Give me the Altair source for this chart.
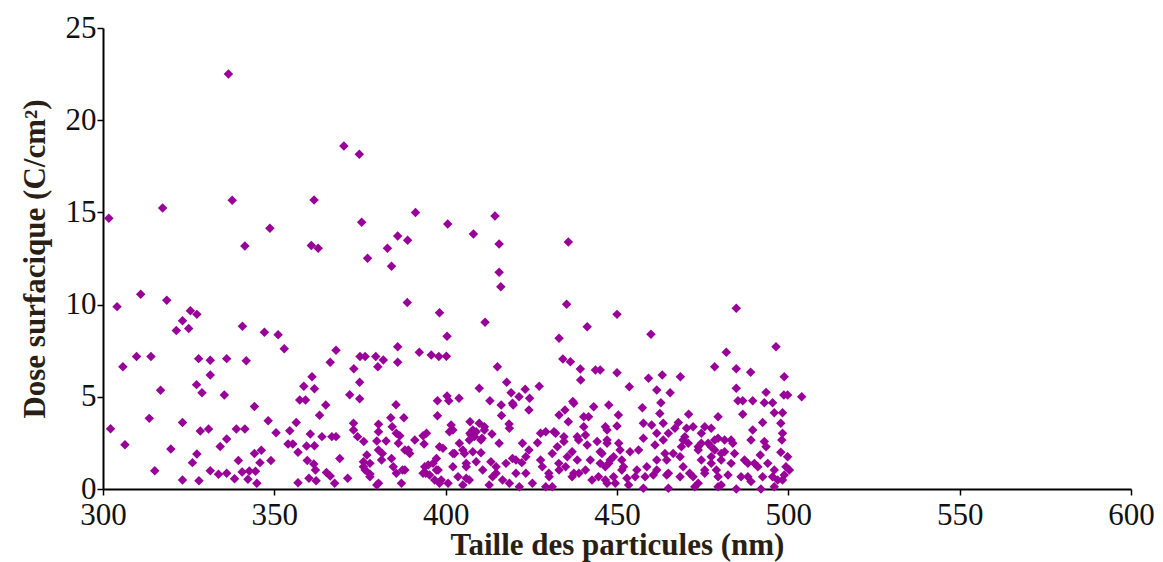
import altair as alt
import pandas as pd

# (particle size nm, surface dose C/cm2), by region
pts_high = [
    (336.6, 22.5), (301.7, 14.68), (317.4, 15.24), (337.7, 15.66), (348.7, 14.14), (341.4, 13.18),
    (370.3, 18.6), (374.8, 18.15), (361.6, 15.67), (375.5, 14.46), (360.8, 13.2), (362.8, 13.05),
    (377.2, 12.51), (383.0, 13.05), (386.0, 13.72), (388.9, 13.49), (384.2, 12.08), (391.2, 15.0),
    (400.6, 14.37), (408.1, 13.83), (414.4, 14.8), (415.6, 13.29), (415.6, 11.75), (416.1, 10.97),
    (435.8, 13.4), (450.0, 9.47), (459.9, 8.39), (484.8, 9.8), (481.9, 7.41), (496.4, 7.72),
]

pts_300_350 = [
    (304.1, 9.89), (311.0, 10.56), (318.6, 10.23), (325.5, 9.67), (327.4, 9.47), (323.2, 9.13),
    (321.4, 8.6), (325.0, 8.7), (340.7, 8.82), (347.1, 8.5), (309.8, 7.18), (314.0, 7.18),
    (305.8, 6.63), (327.9, 7.07), (331.3, 6.98), (336.1, 7.07), (341.8, 6.96), (331.3, 6.18),
    (327.3, 5.66), (328.9, 5.22), (316.8, 5.35), (335.4, 5.1), (344.2, 4.48), (313.5, 3.83),
    (302.2, 3.27), (323.2, 3.6), (328.4, 3.15), (330.8, 3.25), (338.9, 3.25), (341.4, 3.25),
    (348.2, 3.7), (350.5, 3.05), (306.4, 2.4), (319.8, 2.17), (334.2, 2.31), (336.1, 2.71),
    (327.4, 1.9), (326.1, 1.43), (344.2, 1.93), (346.2, 2.1), (345.8, 1.43), (339.5, 1.54),
    (349.0, 1.54), (315.1, 0.99), (331.3, 0.99), (333.7, 0.8), (336.1, 0.85), (338.4, 0.56),
    (340.6, 0.92), (342.7, 0.98), (344.5, 0.96), (342.3, 0.53), (344.9, 0.31), (323.2, 0.49),
    (328.0, 0.45),
]

pts_350_400 = [
    (388.8, 10.12), (398.2, 9.56), (351.1, 8.37), (352.9, 7.61), (368.0, 7.52), (366.3, 6.87),
    (375.0, 7.18), (376.5, 7.18), (379.6, 7.18), (381.8, 7.0), (380.2, 6.63), (386.0, 7.72),
    (386.0, 6.87), (392.3, 7.41), (395.8, 7.27), (398.0, 7.18), (373.2, 6.52), (374.9, 5.79),
    (372.0, 5.11), (374.9, 4.9), (361.0, 6.09), (358.6, 5.57), (361.7, 5.44), (357.4, 4.83),
    (359.1, 4.83), (365.0, 4.56), (363.2, 4.0), (356.4, 3.6), (354.5, 3.16), (354.0, 2.44),
    (355.4, 2.44), (356.9, 1.99), (360.5, 2.98), (359.4, 2.33), (361.7, 2.35), (363.9, 2.84),
    (366.8, 2.84), (368.0, 2.84), (359.6, 1.54), (361.5, 1.36), (362.0, 1.03), (365.2, 0.9),
    (366.3, 0.7), (360.1, 0.58), (362.2, 0.45), (356.9, 0.34), (367.6, 0.31), (369.1, 1.65),
    (371.4, 0.58), (373.1, 3.56), (373.1, 3.2), (374.3, 2.84), (376.1, 2.57), (380.4, 3.51),
    (380.4, 3.11), (379.9, 2.6), (382.6, 2.6), (384.0, 3.87), (384.4, 3.38), (385.5, 4.57),
    (387.8, 3.87), (385.6, 3.02), (386.6, 2.89), (380.4, 2.11), (381.5, 1.93), (377.0, 1.84),
    (376.0, 1.48), (377.9, 1.39), (376.5, 1.03), (377.9, 0.81), (380.4, 0.31), (381.3, 1.57),
    (384.2, 1.66), (384.7, 1.21), (385.6, 0.85), (387.4, 1.03), (387.1, 0.31), (388.1, 2.11),
    (389.5, 1.93), (391.0, 2.66), (393.4, 2.89), (394.4, 3.02), (393.7, 2.44), (394.9, 1.3),
    (394.2, 0.85), (397.3, 1.03), (396.8, 0.49), (398.2, 0.31), (397.6, 4.79), (397.6, 3.97),
    (398.2, 2.29), (379.9, 0.22), (388.1, 1.03), (393.4, 0.85), (389.1, 2.11), (386.2, 2.48),
    (377.9, 0.67), (376.0, 1.21),
]

pts_400_450 = [
    (400.4, 8.28), (400.2, 7.2), (411.5, 9.04), (415.1, 6.63), (409.8, 5.46), (417.8, 5.79),
    (419.1, 5.22), (421.4, 5.0), (423.2, 5.41), (424.5, 4.92), (427.3, 5.57), (412.9, 4.79),
    (416.2, 4.56), (416.3, 3.98), (419.7, 4.56), (424.3, 4.28), (400.4, 5.04), (400.9, 4.79),
    (403.9, 4.92), (401.6, 3.47), (401.1, 3.11), (407.1, 3.65), (409.8, 3.56), (411.3, 3.38),
    (407.1, 3.02), (408.4, 2.84), (410.6, 2.75), (413.5, 2.98), (418.5, 3.52), (404.0, 2.48),
    (399.2, 2.21), (402.6, 1.93), (405.5, 1.93), (407.9, 2.02), (410.3, 1.97), (422.4, 2.48),
    (424.3, 2.11), (426.8, 2.51), (427.7, 3.02), (419.5, 1.66), (422.2, 1.43), (432.1, 3.02),
    (433.1, 4.01), (434.8, 4.28), (435.8, 3.65), (437.4, 4.65), (440.3, 3.92), (441.7, 3.92),
    (443.2, 4.46), (432.6, 2.29), (434.5, 2.57), (436.9, 2.02), (438.8, 2.66), (440.8, 2.93),
    (441.3, 2.39), (436.4, 6.9), (439.3, 6.51), (439.4, 5.91), (443.7, 6.45), (445.1, 6.45),
    (441.3, 8.8), (433.1, 8.17), (434.2, 7.05), (435.3, 10.02), (437.1, 4.74), (447.6, 4.56),
    (397.8, 1.03), (398.7, 0.49), (400.7, 0.31), (402.1, 1.21), (403.6, 0.67), (406.0, 0.58),
    (406.9, 0.49), (406.0, 1.21), (408.9, 1.48), (413.2, 1.48), (414.7, 0.85), (416.6, 0.49),
    (418.6, 0.31), (420.5, 0.85), (421.5, 0.12), (423.4, 0.85), (425.3, 0.31), (428.2, 1.21),
    (430.2, 0.67), (431.1, 0.12), (433.1, 1.03), (435.0, 1.21), (436.9, 0.67), (438.9, 0.85),
    (440.8, 1.03), (442.7, 0.49), (444.6, 0.67), (446.6, 1.21), (447.1, 0.31), (445.1, 2.02),
    (447.1, 2.48), (397.3, 1.66), (415.6, 2.48), (410.8, 1.03),
    (419.5, 4.65), (418.6, 3.29), (402.1, 3.2), (407.9, 3.2), (407.4, 2.93), (408.9, 3.11),
    (411.3, 3.2), (410.3, 2.66), (406.9, 2.66), (393.9, 1.21), (429.2, 3.11), (423.4, 1.75),
    (427.7, 1.57), (420.5, 1.57), (431.6, 3.11), (431.1, 1.93), (433.0, 1.39), (430.1, 0.85),
    (402.1, 1.93), (405.0, 2.11), (406.0, 1.39), (414.7, 1.21), (417.6, 1.39), (413.7, 0.67),
    (396.3, 1.39), (395.3, 0.76), (405.0, 0.22), (412.7, 0.22), (429.2, 0.12),
    (434.5, 2.84), (438.4, 2.84), (440.3, 3.38), (444.2, 2.57), (447.1, 3.2), (442.2, 1.57),
    (438.4, 1.57), (435.5, 1.75), (437.4, 0.85), (445.1, 1.39), (448.0, 1.57), (449.0, 0.67),
]

pts_450_505 = [
    (450.0, 6.31), (459.2, 6.0), (463.2, 6.18), (468.5, 6.09), (453.6, 5.55), (461.6, 5.37),
    (465.5, 5.22), (478.5, 6.63), (484.8, 6.52), (489.0, 6.33), (484.8, 5.46), (485.3, 4.79),
    (486.7, 4.79), (489.6, 4.79), (493.5, 5.24), (493.0, 4.68), (495.4, 4.68), (498.8, 6.09),
    (498.7, 5.1), (499.8, 5.1), (503.9, 5.0), (495.9, 4.14), (498.3, 4.14), (497.8, 3.56),
    (498.3, 3.02), (498.1, 2.66), (497.8, 1.99), (499.8, 1.75), (499.3, 1.21), (500.3, 1.03),
    (450.4, 4.01), (457.4, 4.41), (462.8, 4.68), (462.5, 4.1), (470.9, 4.05), (479.5, 3.92),
    (486.7, 4.05), (492.5, 3.6), (489.6, 3.2), (489.1, 2.66), (493.0, 2.57), (493.5, 2.29),
    (491.8, 1.84), (446.6, 3.38), (450.0, 3.42), (447.1, 2.66), (450.5, 2.48), (453.8, 2.02),
    (457.7, 3.56), (460.1, 3.47), (463.5, 3.56), (467.9, 3.6), (465.0, 3.02), (466.9, 3.29),
    (472.2, 3.38), (475.6, 3.38), (477.5, 3.29), (470.8, 2.48), (474.6, 2.48), (478.5, 2.66),
    (481.4, 2.66), (483.8, 2.48), (457.7, 2.75), (461.1, 2.39), (464.0, 1.93), (468.4, 1.75),
    (473.7, 2.11), (477.5, 2.29), (480.4, 1.93), (484.3, 1.93), (487.2, 1.57), (490.1, 1.39),
    (494.0, 1.39), (447.6, 1.39), (451.4, 1.03), (455.3, 0.67), (458.2, 0.67), (461.6, 1.03),
    (465.0, 0.85), (469.3, 1.21), (472.2, 0.67), (475.6, 1.03), (479.0, 1.03), (482.4, 0.76),
    (486.2, 0.67), (489.1, 0.4), (492.5, 0.67), (495.4, 0.67), (498.3, 0.49), (446.6, 0.49),
    (449.5, 0.31), (453.4, 0.22), (457.7, 0.04), (465.0, 0.04), (472.7, 0.12), (479.5, 0.12),
    (484.8, 0.0), (492.0, 0.0), (495.9, 0.12), (445.6, 1.93), (449.0, 1.75), (451.4, 1.57),
    (468.8, 2.29), (469.8, 2.84), (474.6, 3.02), (477.5, 1.75),
    (450.9, 2.11), (456.3, 2.11), (461.6, 3.02), (463.5, 2.66), (470.3, 3.29), (469.3, 2.66),
    (466.4, 1.93), (464.5, 1.57), (461.6, 1.57), (458.7, 1.21), (455.8, 1.03), (451.9, 1.21),
    (452.9, 0.58), (460.6, 0.76), (464.5, 0.76), (468.4, 0.67), (471.2, 0.85),
    (473.7, 2.29), (476.6, 2.48), (479.5, 2.75), (483.3, 2.66), (478.5, 2.11), (481.4, 2.02),
    (474.6, 1.57), (477.5, 1.39), (480.4, 1.57), (483.3, 1.39), (488.2, 1.39), (491.1, 1.21),
    (495.9, 1.03), (475.6, 0.85), (479.5, 0.67), (488.2, 0.67), (496.9, 0.49), (473.7, 0.31),
    (480.4, 0.22), (498.8, 0.76),
]

x_ticks = [300, 350, 400, 450, 500, 550, 600]
y_ticks = [0, 5, 10, 15, 20, 25]

points = pts_high + pts_300_350 + pts_350_400 + pts_400_450 + pts_450_505
df = pd.DataFrame(points, columns=["taille", "dose"])

serif = "Liberation Serif"
label_color = "#111111"
title_color = "#2a1f14"

chart = (
    alt.Chart(df)
    .mark_point(shape="diamond", filled=True, size=90, color="#990099", opacity=1)
    .encode(
        x=alt.X(
            "taille:Q",
            scale=alt.Scale(domain=[300, 600], nice=False, zero=False),
            axis=alt.Axis(
                values=x_ticks, title="Taille des particules (nm)", grid=False,
                labelFont=serif, labelFontSize=31, labelColor=label_color,
                titleFont=serif, titleFontSize=31, titleFontWeight="bold", titleColor=title_color,
                tickSize=6, tickWidth=1.5, tickColor="#000000", domainColor="#000000", domainWidth=2,
                labelPadding=5, titlePadding=0, labelFlush=False,
            ),
        ),
        y=alt.Y(
            "dose:Q",
            scale=alt.Scale(domain=[0, 25], nice=False),
            axis=alt.Axis(
                values=y_ticks, title="Dose surfacique (C/cm²)", grid=False,
                labelFont=serif, labelFontSize=31, labelColor=label_color,
                titleFont=serif, titleFontSize=31, titleFontWeight="bold", titleColor=title_color,
                tickSize=6, tickWidth=1.5, tickColor="#000000", domainColor="#000000", domainWidth=2,
                labelPadding=1, titlePadding=14, labelFlush=False,
            ),
        ),
    )
    .properties(
        width=1028, height=461,
        autosize=alt.AutoSizeParams(type="none"),
        padding={"left": 95, "top": 20, "right": 24, "bottom": 73},
    )
    .configure_view(stroke=None)
)

chart.save("out.html", embed_options={"renderer": "svg", "actions": False})
